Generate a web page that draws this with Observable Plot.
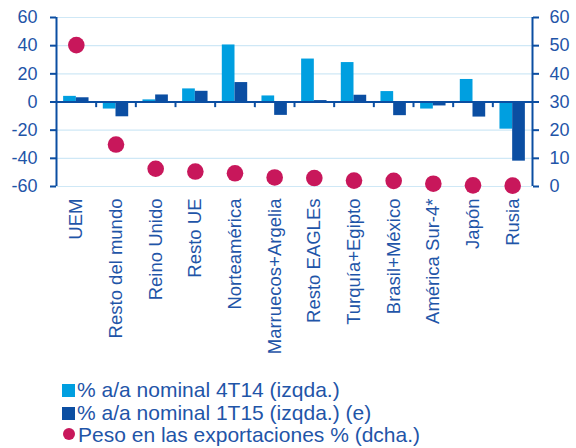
<!DOCTYPE html>
<html><head><meta charset="utf-8">
<script src="https://cdn.jsdelivr.net/npm/d3@7"></script>
<script src="https://cdn.jsdelivr.net/npm/@observablehq/plot@0.6"></script>
<style>
body{margin:0;background:#fff;font-family:"Liberation Sans",Arial,sans-serif;}
#wrap{position:relative;width:576px;height:448px;overflow:hidden;}
#legend{position:absolute;left:0;top:0;width:576px;height:448px;pointer-events:none;}
.row{position:absolute;left:62px;font-size:21px;line-height:22px;color:#1f55a8;white-space:nowrap;}
.sw{display:inline-block;vertical-align:baseline;position:relative;}
</style></head><body><div id="wrap"><div id="chart"></div><div id="legend"></div></div>
<script>
const categories = ["UEM","Resto del mundo","Reino Unido","Resto UE","Norteamérica","Marruecos+Argelia","Resto EAGLEs","Turquía+Egipto","Brasil+México","América Sur-4*","Japón","Rusia"];
const nominal4T14 = [4, -5, 1.5, 9.3, 40.5, 4.3, 30.5, 28, 7.4, -5, 16, -19.3];
const nominal1T15 = [3, -10.5, 5, 7.6, 13.8, -9.5, 1, 4.8, -9.7, -2.8, -10.7, -42];
const pesoExport = [50.2, 14.9, 6.3, 5.3, 4.7, 3.2, 3.0, 2.1, 2.0, 1.0, 0.4, 0.3];
const leftTicks = [-60, -40, -20, 0, 20, 40, 60];
const rightTicks = [0, 10, 20, 30, 40, 50, 60];
const seriesNames = ["% a/a nominal 4T14 (izqda.)", "% a/a nominal 1T15 (izqda.) (e)", "Peso en las exportaciones % (dcha.)"];

const colLight = "#009fe0", colDark = "#0b4ea2", colDot = "#c8175b", colText = "#1f55a8", colGrid = "#cfe8f6";
// right axis (0..60) mapped onto left axis domain (-60..60)
const toLeft = v => v * 2 - 60;

const W = 576, H = 370, mL = 56, mR = 44;
const bw = (W - mL - mR) / categories.length;
const barW = 12.7, outer = (bw - 2 * barW) / 2;

const rows = categories.map((c, i) => ({c, a: nominal4T14[i], b: nominal1T15[i], p: pesoExport[i]}));

const chart = Plot.plot({
  width: W, height: H,
  marginLeft: mL, marginRight: mR, marginTop: 17, marginBottom: H - 186,
  style: {fontFamily: "Liberation Sans, Arial, sans-serif", fontSize: "18px", color: colText, background: "#fff"},
  x: {domain: categories, padding: 0, round: false, axis: null},
  y: {domain: [-60, 60], axis: null},
  marks: [
    Plot.ruleY(leftTicks, {stroke: colGrid, strokeWidth: 1.2}),
    Plot.barY(rows, {x: "c", y: "a", fill: colLight, insetLeft: outer, insetRight: bw - outer - barW}),
    Plot.barY(rows, {x: "c", y: "b", fill: colDark, insetLeft: outer + barW, insetRight: outer}),
    Plot.ruleY([0], {stroke: colDark, strokeWidth: 2}),
    Plot.ruleX(categories.slice(1), {x: d => d, y1: 0, y2: -4, dx: -bw / 2, stroke: colDark, strokeWidth: 2}),
    Plot.ruleX([categories[0]], {x: d => d, y1: -60, y2: 60, dx: -bw / 2, stroke: colDark, strokeWidth: 2}),
    Plot.ruleX([categories[categories.length - 1]], {x: d => d, y1: -60, y2: 60, dx: bw / 2, stroke: colDark, strokeWidth: 2}),
    Plot.dot(rows, {x: "c", y: d => toLeft(d.p), r: 8.3, fill: colDot}),
    Plot.axisY({anchor: "left", ticks: leftTicks, tickFormat: d => String(d), tickSize: 6, tickPadding: 13, stroke: colDark, strokeWidth: 2, fill: colText, label: null}),
    Plot.axisY({anchor: "right", ticks: rightTicks.map(toLeft), tickFormat: d => String((d + 60) / 2), tickSize: 6, tickPadding: 11, stroke: colDark, strokeWidth: 2, fill: colText, label: null}),
    Plot.axisX({anchor: "bottom", tickSize: 0, tickPadding: 12, tickRotate: -90, fill: colText, fontSize: 18.5, label: null})
  ]
});
document.getElementById("chart").appendChild(chart);

const legend = document.getElementById("legend");
const tops = [379, 402, 424];
seriesNames.forEach((name, i) => {
  const r = document.createElement("div");
  r.className = "row";
  r.style.top = tops[i] + "px";
  const sw = document.createElement("span");
  sw.className = "sw";
  if (i < 2) {
    sw.style.width = "13px"; sw.style.height = "13px";
    sw.style.background = i === 0 ? colLight : colDark;
    sw.style.marginRight = "2px";
  } else {
    sw.style.width = "12px"; sw.style.height = "12px"; sw.style.borderRadius = "50%";
    sw.style.background = colDot; sw.style.marginRight = "3px";
    sw.style.marginLeft = "1px"; sw.style.top = "-2px";
  }
  r.appendChild(sw);
  r.appendChild(document.createTextNode(name));
  legend.appendChild(r);
});
</script></body></html>
